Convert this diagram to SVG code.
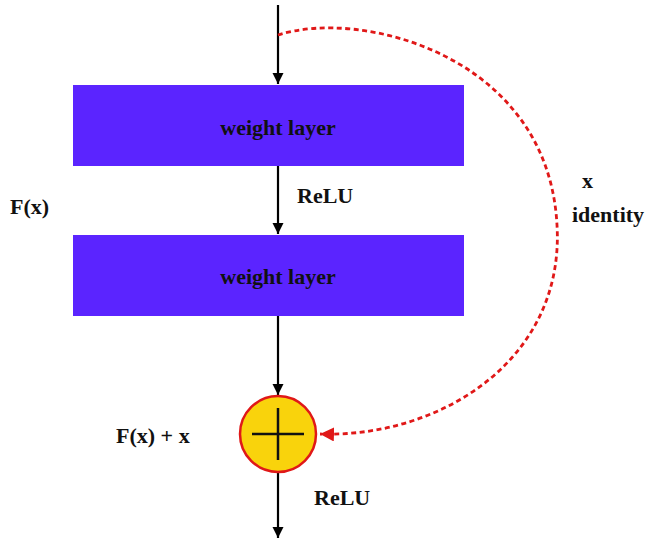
<svg xmlns="http://www.w3.org/2000/svg" width="652" height="545" viewBox="0 0 652 545">
<defs>
<style>
.lbl{font-family:"Liberation Serif","DejaVu Serif",serif;font-weight:bold;font-size:22px;fill:#111;}
.box{fill:#5B24FF;}
.arr{stroke:#000;stroke-width:2.2;fill:none;marker-end:url(#ah);}
</style>
<marker id="ah" viewBox="0 0 10 10" refX="10" refY="5" markerWidth="5" markerHeight="6" markerUnits="strokeWidth" orient="auto">
<path d="M0,0 L10,5 L0,10 z" fill="#000"/>
</marker>
<marker id="rah" viewBox="0 0 10 10" refX="10" refY="5" markerWidth="5" markerHeight="5" markerUnits="strokeWidth" orient="auto">
<path d="M0,0 L10,5 L0,10 z" fill="#E01818"/>
</marker>
</defs>
<rect width="652" height="545" fill="#fff"/>
<g id="connectors">
<line class="arr" x1="278" y1="5" x2="278" y2="84"/>
<line class="arr" x1="278" y1="166" x2="278" y2="234"/>
<line class="arr" x1="278" y1="316" x2="278" y2="395"/>
<line class="arr" x1="278" y1="473" x2="278" y2="538"/>
<path d="M278,35 C360,8 548,55 557,225 C565,360 440,438 320,434" fill="none" stroke="#E01818" stroke-width="2.8" stroke-dasharray="5,3.5" marker-end="url(#rah)"/>
</g>
<g id="weight1">
<rect class="box" x="73" y="85" width="391" height="81"/>
<text class="lbl" x="278" y="135" text-anchor="middle">weight layer</text>
</g>
<g id="weight2">
<rect class="box" x="73" y="235" width="391" height="81"/>
<text class="lbl" x="278" y="284" text-anchor="middle">weight layer</text>
</g>
<g id="sum">
<circle cx="278" cy="434" r="38" fill="#F9D30C" stroke="#E01818" stroke-width="2.5"/>
<line x1="278" y1="408" x2="278" y2="460" stroke="#111" stroke-width="2.5"/>
<line x1="252" y1="434" x2="304" y2="434" stroke="#111" stroke-width="2.5"/>
</g>
<g id="labels">
<text class="lbl" x="297" y="203">ReLU</text>
<text class="lbl" x="10" y="214">F(x)</text>
<text class="lbl" x="582" y="188">x</text>
<text class="lbl" x="572" y="222">identity</text>
<text class="lbl" x="116" y="443">F(x) + x</text>
<text class="lbl" x="314" y="505">ReLU</text>
</g>
</svg>
